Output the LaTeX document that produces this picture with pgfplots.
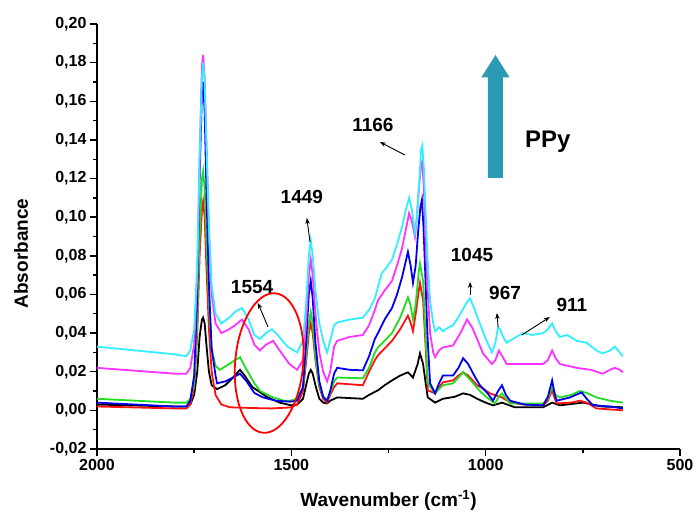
\documentclass[border=0pt]{standalone}
\usepackage{fontspec}
\setmainfont{Liberation Sans}
\usepackage{pgfplots}
\pgfplotsset{compat=1.18}
\usetikzlibrary{arrows.meta,shapes.geometric}

\definecolor{ccyan}{HTML}{33EEFF}
\definecolor{cmag}{HTML}{FF33FF}
\definecolor{cblue}{HTML}{0000EE}
\definecolor{cgreen}{HTML}{22DD22}
\definecolor{cred}{HTML}{FF1111}
\definecolor{ppyteal}{HTML}{2B9AB5}

\begin{document}
\begin{tikzpicture}
\begin{axis}[
    scale only axis,
    width=583pt, height=425pt,
    xmin=500, xmax=2000, x dir=reverse,
    ymin=-0.02, ymax=0.20,
    axis lines*=left,
    axis line style={line width=1.6pt},
    tick align=outside,
    major tick length=7pt, minor tick length=4pt,
    every tick/.style={line width=1.4pt, black},
    xtick={500,1000,1500,2000}, minor x tick num=1,
    ytick={-0.02,0,0.02,0.04,0.06,0.08,0.10,0.12,0.14,0.16,0.18,0.20},
    minor y tick num=1,
    tick label style={font=\fontsize{16}{18}\selectfont\bfseries},
    x tick label style={/pgf/number format/1000 sep={}},
    yticklabel style={/pgf/number format/.cd, use comma, fixed, fixed zerofill, precision=2},
    /pgf/number format/assume math mode=true,
    xlabel={Wavenumber (cm\textsuperscript{-1})},
    ylabel={Absorbance},
    label style={font=\fontsize{19}{21}\selectfont\bfseries},
    xlabel style={yshift=-13pt},
    ylabel style={at={(ticklabel cs:0.46)}, yshift=15pt},
    clip=false,
    every axis plot/.append style={line width=1.8pt},
]
% black
\addplot[black] coordinates {
(2000,0.003) (1900,0.0025) (1800,0.002) (1770,0.002) (1760,0.003) (1750,0.008)
(1742,0.02) (1736,0.038) (1730,0.047) (1727,0.048) (1723,0.045) (1718,0.033)
(1712,0.02) (1705,0.013) (1691,0.011) (1670,0.013) (1650,0.017) (1632,0.021)
(1620,0.018) (1600,0.012) (1563,0.007) (1530,0.004) (1500,0.0026) (1485,0.003)
(1470,0.006) (1462,0.013) (1455,0.019) (1450,0.021) (1445,0.019) (1438,0.013)
(1428,0.006) (1418,0.004) (1408,0.0036) (1400,0.005) (1382,0.0067) (1316,0.006)
(1300,0.008) (1277,0.0104) (1260,0.013) (1241,0.0155) (1220,0.018) (1200,0.0197)
(1187,0.017) (1175,0.024) (1169,0.0295) (1161,0.024) (1155,0.015) (1149,0.0067)
(1130,0.004) (1110,0.006) (1080,0.007) (1058,0.0088) (1040,0.008) (1022,0.006)
(1000,0.004) (981,0.0026) (958,0.004) (925,0.0016) (852,0.0016) (829,0.004)
(809,0.0026) (750,0.004) (700,0.002) (647,0.0016)
};
% red
\addplot[cred] coordinates {
(2000,0.002) (1900,0.0015) (1800,0.001) (1770,0.001) (1760,0.003) (1750,0.012)
(1742,0.04) (1736,0.08) (1730,0.104) (1727,0.108) (1723,0.10) (1718,0.072)
(1712,0.042) (1705,0.020) (1695,0.008) (1680,0.003) (1658,0.0016) (1600,0.0012)
(1550,0.001) (1503,0.0015) (1485,0.003) (1470,0.010) (1462,0.025) (1455,0.040)
(1450,0.045) (1445,0.040) (1438,0.026) (1428,0.012) (1418,0.006) (1408,0.004)
(1400,0.008) (1390,0.012) (1382,0.014) (1316,0.013) (1300,0.020) (1285,0.026)
(1277,0.0285) (1260,0.032) (1241,0.036) (1220,0.042) (1200,0.049) (1194,0.046)
(1187,0.041) (1180,0.050) (1172,0.062) (1169,0.066) (1161,0.057) (1155,0.035)
(1149,0.0104) (1130,0.0088) (1120,0.012) (1110,0.0145) (1084,0.0155) (1070,0.018)
(1058,0.0197) (1045,0.018) (1022,0.013) (1005,0.011) (989,0.0088) (958,0.0067)
(937,0.004) (900,0.003) (852,0.0026) (840,0.005) (829,0.0104) (822,0.006)
(817,0.0036) (780,0.004) (758,0.005) (740,0.004) (715,0.001) (680,0.0005) (647,0.0)
};
% green
\addplot[cgreen] coordinates {
(2000,0.006) (1900,0.005) (1800,0.004) (1770,0.004) (1760,0.006) (1750,0.014)
(1742,0.045) (1736,0.09) (1730,0.12) (1727,0.124) (1723,0.115) (1718,0.085)
(1712,0.055) (1705,0.032) (1695,0.023) (1684,0.021) (1660,0.024) (1645,0.026)
(1632,0.0275) (1615,0.021) (1595,0.014) (1580,0.010) (1550,0.007) (1520,0.005)
(1503,0.005) (1485,0.006) (1470,0.012) (1462,0.028) (1455,0.045) (1450,0.051)
(1445,0.045) (1438,0.028) (1428,0.013) (1418,0.007) (1408,0.005) (1400,0.009)
(1390,0.015) (1382,0.017) (1316,0.0166) (1300,0.022) (1285,0.030) (1277,0.0326)
(1260,0.036) (1241,0.040) (1220,0.048) (1200,0.0585) (1194,0.055) (1187,0.047)
(1180,0.055) (1172,0.072) (1169,0.076) (1161,0.067) (1155,0.040) (1149,0.014)
(1130,0.0088) (1120,0.011) (1110,0.013) (1084,0.014) (1070,0.017) (1058,0.0197)
(1045,0.017) (1032,0.014) (1015,0.010) (997,0.0067) (976,0.0036) (966,0.007)
(958,0.0088) (948,0.006) (937,0.0036) (900,0.0036) (852,0.0036) (840,0.006)
(829,0.012) (820,0.008) (809,0.0067) (780,0.008) (758,0.010) (740,0.009)
(715,0.0067) (680,0.005) (647,0.004)
};
% blue
\addplot[cblue] coordinates {
(2000,0.004) (1900,0.003) (1800,0.002) (1770,0.002) (1760,0.005) (1750,0.018)
(1742,0.06) (1736,0.12) (1730,0.165) (1727,0.170) (1723,0.155) (1718,0.11)
(1712,0.065) (1705,0.032) (1695,0.018) (1691,0.014) (1670,0.015) (1650,0.017)
(1632,0.019) (1615,0.015) (1595,0.009) (1573,0.0067) (1540,0.005) (1503,0.0045)
(1485,0.005) (1470,0.012) (1462,0.035) (1455,0.060) (1450,0.067) (1445,0.058)
(1438,0.035) (1428,0.015) (1418,0.007) (1408,0.005) (1400,0.010) (1390,0.019)
(1382,0.022) (1350,0.021) (1316,0.0207) (1300,0.028) (1285,0.037) (1277,0.040)
(1260,0.047) (1241,0.053) (1228,0.060) (1215,0.069) (1200,0.082) (1193,0.075)
(1187,0.066) (1180,0.075) (1174,0.092) (1168,0.105) (1164,0.109) (1160,0.095)
(1156,0.074) (1150,0.040) (1143,0.014) (1130,0.0088) (1120,0.014) (1110,0.018)
(1084,0.018) (1070,0.022) (1058,0.027) (1045,0.024) (1032,0.019) (1015,0.013)
(997,0.0093) (981,0.005) (968,0.010) (958,0.013) (948,0.008) (937,0.005)
(900,0.003) (852,0.0026) (840,0.007) (829,0.0155) (822,0.008) (817,0.005)
(783,0.0067) (753,0.0093) (740,0.006) (724,0.0026) (680,0.002) (647,0.001)
};
% magenta
\addplot[cmag] coordinates {
(2000,0.022) (1900,0.0205) (1800,0.019) (1770,0.019) (1760,0.022) (1750,0.034)
(1742,0.07) (1736,0.13) (1730,0.178) (1727,0.184) (1723,0.172) (1718,0.135)
(1712,0.092) (1705,0.06) (1695,0.045) (1680,0.040) (1660,0.042) (1645,0.044)
(1627,0.047) (1610,0.042) (1595,0.034) (1581,0.031) (1565,0.034) (1547,0.036)
(1530,0.031) (1505,0.024) (1485,0.021) (1470,0.026) (1462,0.045) (1455,0.070)
(1450,0.078) (1445,0.070) (1438,0.050) (1428,0.030) (1418,0.020) (1408,0.015)
(1400,0.020) (1390,0.033) (1382,0.036) (1350,0.038) (1316,0.039) (1300,0.044)
(1285,0.052) (1277,0.057) (1260,0.062) (1241,0.067) (1228,0.075) (1215,0.084)
(1205,0.094) (1197,0.102) (1190,0.098) (1182,0.090) (1177,0.100) (1171,0.117)
(1166,0.128) (1163,0.129) (1159,0.115) (1155,0.090) (1150,0.065) (1143,0.040)
(1135,0.030) (1130,0.0275) (1120,0.031) (1110,0.0326) (1084,0.0336) (1065,0.040)
(1048,0.047) (1035,0.043) (1020,0.036) (1007,0.0295) (984,0.024) (975,0.026)
(966,0.031) (960,0.029) (946,0.024) (920,0.024) (886,0.024) (852,0.024)
(840,0.026) (829,0.031) (820,0.027) (809,0.024) (766,0.022) (730,0.021)
(699,0.019) (680,0.021) (668,0.022) (655,0.021) (647,0.0197)
};
% cyan
\addplot[ccyan] coordinates {
(2000,0.033) (1900,0.031) (1800,0.029) (1770,0.028) (1760,0.031) (1750,0.042)
(1742,0.075) (1736,0.13) (1730,0.172) (1727,0.180) (1723,0.170) (1718,0.135)
(1712,0.095) (1705,0.065) (1695,0.050) (1680,0.045) (1660,0.048) (1645,0.051)
(1627,0.053) (1610,0.047) (1595,0.039) (1581,0.037) (1565,0.040) (1550,0.042)
(1535,0.039) (1510,0.033) (1485,0.030) (1470,0.036) (1462,0.055) (1455,0.080)
(1450,0.088) (1445,0.080) (1438,0.062) (1428,0.045) (1418,0.036) (1408,0.030)
(1400,0.036) (1390,0.044) (1382,0.0455) (1350,0.047) (1316,0.048) (1300,0.052)
(1285,0.058) (1277,0.064) (1267,0.071) (1255,0.074) (1241,0.078) (1228,0.086)
(1215,0.095) (1205,0.104) (1197,0.110) (1190,0.104) (1182,0.092) (1177,0.100)
(1171,0.118) (1166,0.135) (1163,0.137) (1159,0.125) (1155,0.105) (1150,0.080)
(1143,0.057) (1135,0.045) (1130,0.041) (1120,0.043) (1110,0.041) (1095,0.043)
(1084,0.044) (1065,0.050) (1048,0.056) (1040,0.058) (1030,0.053) (1015,0.045)
(1000,0.037) (984,0.030) (975,0.035) (968,0.043) (963,0.042) (955,0.038)
(946,0.035) (930,0.037) (904,0.040) (880,0.039) (852,0.040) (840,0.042)
(829,0.045) (820,0.041) (809,0.038) (790,0.039) (766,0.036) (740,0.035)
(715,0.031) (699,0.0295) (680,0.031) (668,0.033) (655,0.030) (647,0.028)
};

% annotations
\node[draw=red, line width=1.8pt, ellipse, inner sep=0pt, minimum width=68pt,
      minimum height=140pt, rotate=-5] at (axis cs:1557,0.0245) {};
\begin{scope}[font=\fontsize{19}{21}\selectfont\bfseries, line width=0.9pt,
              -{Stealth[length=6pt,width=4.5pt]}]
\node at (axis cs:1601,0.0639) {1554};
\draw (axis cs:1560,0.0432) -- (axis cs:1586,0.0556);
\node at (axis cs:1473,0.1105) {1449};
\draw (axis cs:1452,0.0872) -- (axis cs:1460,0.0996);
\node at (axis cs:1290,0.1477) {1166};
\draw (axis cs:1208,0.1322) -- (axis cs:1272,0.1389);
\node at (axis cs:1035,0.0804) {1045};
\draw (axis cs:1040,0.0597) -- (axis cs:1040,0.0665);
\node at (axis cs:950,0.0608) {967};
\draw (axis cs:968,0.0432) -- (axis cs:971,0.0504);
\node at (axis cs:778,0.0546) {911};
\draw (axis cs:907,0.039) -- (axis cs:835,0.0483);
\end{scope}
\fill[ppyteal] (axis cs:955.4,0.1203) -- (axis cs:994,0.1203) -- (axis cs:994,0.1724)
  -- (axis cs:1011,0.1724) -- (axis cs:974.7,0.1839) -- (axis cs:938.7,0.1724)
  -- (axis cs:955.4,0.1724) -- cycle;
\node[font=\fontsize{24}{26}\selectfont\bfseries] at (axis cs:840,0.1389) {PPy};
\end{axis}
\pgfresetboundingbox
\useasboundingbox (-97pt,-72pt) rectangle (601pt,449pt);
\end{tikzpicture}
\end{document}
